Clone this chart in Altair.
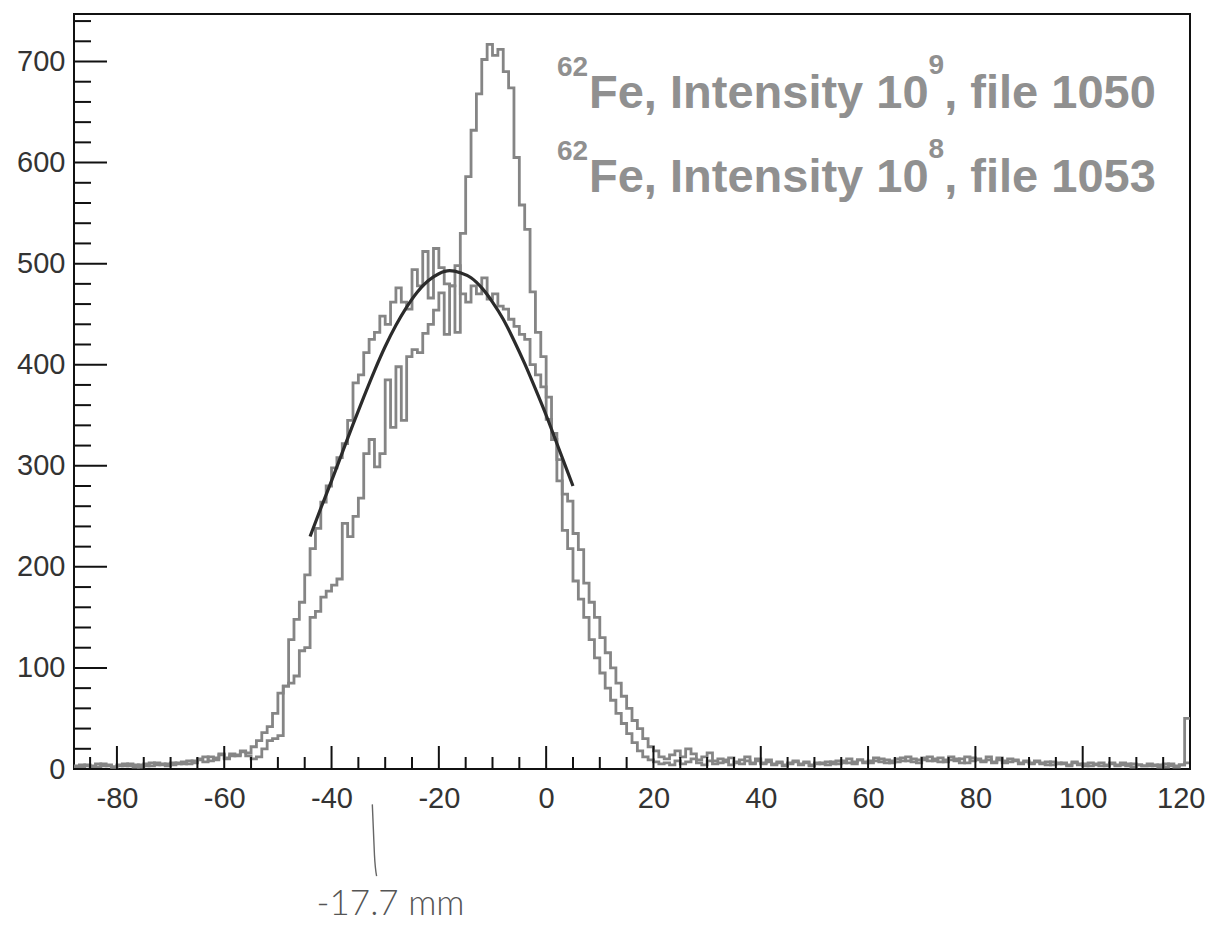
import altair as alt
import pandas as pd

# ---------------- data ----------------
X_MIN, X_MAX = -88, 120
Y_MAX = 747

bin_left_edges = list(range(-88, 120))  # 1-unit bins

# broad histogram (the one the fit follows)
hist_a = [
    3, 2, 4, 3, 2, 5, 3, 2, 4, 3,            # -88..-79
    5, 2, 4, 3, 6, 4, 5, 3, 6, 5,            # -78..-69
    7, 5, 8, 10, 7, 12, 9, 14, 11, 15,       # -68..-59
    13, 18, 16, 22, 28, 36, 42, 55, 75, 82,  # -58..-49
    128, 148, 165, 192, 218, 238, 264, 280, 298, 308,   # -48..-39
    322, 345, 382, 390, 412, 425, 432, 448, 440, 462,   # -38..-29
    476, 462, 455, 494, 478, 512, 466, 515, 496, 480,   # -28..-19
    478, 498, 470, 462, 478, 470, 486, 465, 470, 458,   # -18..-9
    455, 445, 438, 430, 425, 400, 390, 378, 346, 326,   # -8..1
    306, 272, 265, 233, 217, 184, 165, 150, 130, 115,   # 2..11
    100, 85, 72, 60, 48, 40, 30, 22, 18, 12,            # 12..21
    10, 14, 18, 12, 20, 15, 9, 12, 16, 8,               # 22..31
    10, 7, 11, 6, 9, 12, 5, 8, 6, 9,                    # 32..41
    5, 7, 4, 6, 8, 5, 7, 4, 6, 5,                       # 42..51
    7, 5, 8, 6, 10, 7, 9, 6, 8, 11,                     # 52..61
    7, 9, 6, 10, 8, 12, 7, 9, 11, 8,                    # 62..71
    10, 7, 9, 12, 8, 10, 6, 11, 9, 8,                   # 72..81
    12, 7, 9, 6, 10, 8, 6, 7, 5, 8,                     # 82..91
    6, 4, 7, 5, 6, 4, 7, 5, 3, 6,                       # 92..101
    4, 6, 3, 5, 4, 6, 3, 5, 4, 3,                       # 102..111
    5, 3, 4, 2, 5, 3, 4, 50,                            # 112..119
]

# peaked histogram
hist_b = [
    2, 4, 3, 2, 5, 3, 4, 2, 3, 5,            # -88..-79
    3, 4, 2, 5, 3, 6, 4, 5, 4, 6,            # -78..-69
    5, 8, 6, 9, 12, 8, 11, 15, 10, 13,       # -68..-59
    14, 17, 13, 10, 12, 20, 28, 30, 33, 82,  # -58..-49
    85, 92, 117, 120, 150, 156, 170, 176, 182, 188,     # -48..-39
    243, 230, 250, 268, 312, 326, 299, 312, 385, 338,   # -38..-29
    398, 345, 408, 415, 412, 431, 440, 454, 471, 430,   # -28..-19
    478, 432, 530, 586, 632, 668, 702, 717, 706, 712,   # -18..-9
    690, 674, 605, 558, 534, 472, 432, 408, 368, 332,   # -8..1
    285, 236, 218, 186, 168, 150, 128, 110, 95, 80,     # 2..11
    68, 55, 45, 35, 26, 18, 12, 9, 7, 5,                # 12..21
    6, 4, 8, 5, 7, 10, 6, 4, 8, 5,                      # 22..31
    6, 9, 4, 7, 5, 8, 6, 10, 5, 7,                      # 32..41
    4, 6, 3, 5, 7, 4, 6, 3, 5, 6,                       # 42..51
    4, 7, 5, 8, 6, 5, 9, 7, 6, 8,                       # 52..61
    10, 6, 8, 7, 11, 8, 10, 6, 9, 12,                   # 62..71
    8, 11, 7, 9, 10, 6, 12, 8, 10, 7,                   # 72..81
    9, 6, 11, 8, 7, 9, 5, 8, 6, 7,                      # 82..91
    5, 7, 4, 6, 5, 3, 6, 4, 5, 3,                       # 92..101
    5, 3, 4, 6, 3, 4, 5, 2, 4, 3,                       # 102..111
    3, 4, 2, 5, 3, 2, 4, 6,                             # 112..119
]

# gaussian fit curve
fit_x = [-44, -42, -40, -38, -36, -34, -32, -30, -28, -26, -24, -22, -20,
         -18, -16, -14, -12, -10, -8, -6, -4, -2, 0, 2, 4, 5]
fit_y = [230, 258, 285, 313, 341, 368, 394, 418, 439, 457, 472, 483, 490,
         493, 491, 486, 476, 462, 445, 424, 401, 376, 350, 322, 294, 280]

x_major = [-80, -60, -40, -20, 0, 20, 40, 60, 80, 100, 120]
y_major = [0, 100, 200, 300, 400, 500, 600, 700]
x_minor = [v for v in range(-85, 120, 5) if v % 20 != 0]
y_minor = [v for v in range(20, 747, 20) if v % 100 != 0]

legend_sup = ["62", "62"]
legend_main = ["Fe, Intensity 10", "Fe, Intensity 10"]
legend_exp = ["9", "8"]
legend_tail = [", file 1050", ", file 1053"]
legend_y = [654, 571]
legend_x = [2.0, 2.0]

note_text = ["-17.7 mm"]
note_x = [-29.0]
note_y = [-144]
stroke_x = [-32.4, -32.2, -32.0, -31.6]
stroke_y = [-35, -60, -85, -106]

# ---------------- layout ----------------
W, H = 1116, 755
px_x = W / (X_MAX - X_MIN)
px_y = H / Y_MAX

xs = alt.Scale(domain=[X_MIN, X_MAX], nice=False, zero=False)
ys = alt.Scale(domain=[0, Y_MAX], nice=False, zero=False)

HIST_COLOR = "#858585"
TEXT_GRAY = "#909090"
LABEL_COLOR = "#333333"
FONT = "Liberation Sans"


def X(field):
    return alt.X(field, scale=xs, title=None)


def Y(field):
    return alt.Y(field, scale=ys, title=None)


# histogram table (long form, step-after, with closing right edge)
rows = []
for name, vals in (("A", hist_a), ("B", hist_b)):
    for e, v in zip(bin_left_edges, vals):
        rows.append({"x": e, "y": v, "s": name})
    rows.append({"x": X_MAX, "y": vals[-1], "s": name})
hist_df = pd.DataFrame(rows)

hist = alt.Chart(hist_df).mark_line(
    interpolate="step-after", strokeWidth=2.8, color=HIST_COLOR, clip=True
).encode(
    x=alt.X("x:Q", scale=xs, title=None, axis=alt.Axis(
        values=x_major, ticks=False, domain=False, grid=False,
        labelFontSize=29, labelFont=FONT, labelColor=LABEL_COLOR,
        labelPadding=15, labelExpr="'' + datum.value",
        labelFlush=1, labelFlushOffset=15)),
    y=alt.Y("y:Q", scale=ys, title=None, axis=alt.Axis(
        values=y_major, ticks=False, domain=False, grid=False,
        labelFontSize=29, labelFont=FONT, labelColor=LABEL_COLOR,
        labelPadding=9, labelFlush=False)),
    detail="s:N",
)

fit_df = pd.DataFrame({"x": fit_x, "y": fit_y})
fit = alt.Chart(fit_df).mark_line(
    interpolate="monotone", strokeWidth=3.2, color="#2b2b2b"
).encode(x=X("x:Q"), y=Y("y:Q"))

# ticks (inside the frame)
xt = pd.DataFrame(
    [{"x": v, "y0": 0, "y1": 23 / px_y} for v in x_major]
    + [{"x": v, "y0": 0, "y1": 12 / px_y} for v in x_minor]
)
x_ticks = alt.Chart(xt).mark_rule(color="#111111", strokeWidth=2).encode(
    x=X("x:Q"), y=Y("y0:Q"), y2="y1:Q")

yt = pd.DataFrame(
    [{"y": v, "x0": X_MIN, "x1": X_MIN + 33 / px_x} for v in y_major]
    + [{"y": v, "x0": X_MIN, "x1": X_MIN + 17 / px_x} for v in y_minor]
)
y_ticks = alt.Chart(yt).mark_rule(color="#111111", strokeWidth=2).encode(
    y=Y("y:Q"), x=X("x0:Q"), x2="x1:Q")

# legend texts (gray, bold, with superscripts)
leg_df = pd.DataFrame({"x": legend_x, "y": legend_y, "sup": legend_sup,
                       "main": legend_main, "exp": legend_exp, "tail": legend_tail})
SUP, BIG = 28, 47


def piece(field, size, dx, dy):
    return alt.Chart(leg_df).mark_text(
        align="left", baseline="alphabetic", font=FONT, fontWeight="bold",
        fontSize=size, color=TEXT_GRAY, dx=dx, dy=dy
    ).encode(x=X("x:Q"), y=Y("y:Q"), text=f"{field}:N")


dx_main = 1.112 * SUP + 1
dx_exp = dx_main + 7.225 * BIG
dx_tail = dx_exp + 0.556 * SUP
leg = (piece("sup", SUP, 0, -32) + piece("main", BIG, dx_main, 0)
       + piece("exp", SUP, dx_exp, -34) + piece("tail", BIG, dx_tail, 0))

# handwritten note below the axis
note_df = pd.DataFrame({"x": note_x, "y": note_y, "t": note_text})
note = alt.Chart(note_df).mark_text(
    font="Lato", fontWeight=300, fontSize=35, color="#555555",
    align="center", baseline="alphabetic"
).encode(x=X("x:Q"), y=Y("y:Q"), text="t:N")

stroke_df = pd.DataFrame({"x": stroke_x, "y": stroke_y})
stroke = alt.Chart(stroke_df).mark_line(
    color="#666666", strokeWidth=1.4, interpolate="monotone"
).encode(x=X("x:Q"), y=Y("y:Q"), order=alt.Order("y:Q", sort="descending"))

chart = alt.layer(hist, x_ticks, y_ticks, fit, leg, note, stroke).properties(
    width=W, height=H,
    padding={"left": 66, "top": 6, "right": 16, "bottom": 163},
    autosize="none",
    background="white",
).configure_view(stroke="#111111", strokeWidth=2)

chart.save("out.html", embed_options={"renderer": "svg", "actions": False})
